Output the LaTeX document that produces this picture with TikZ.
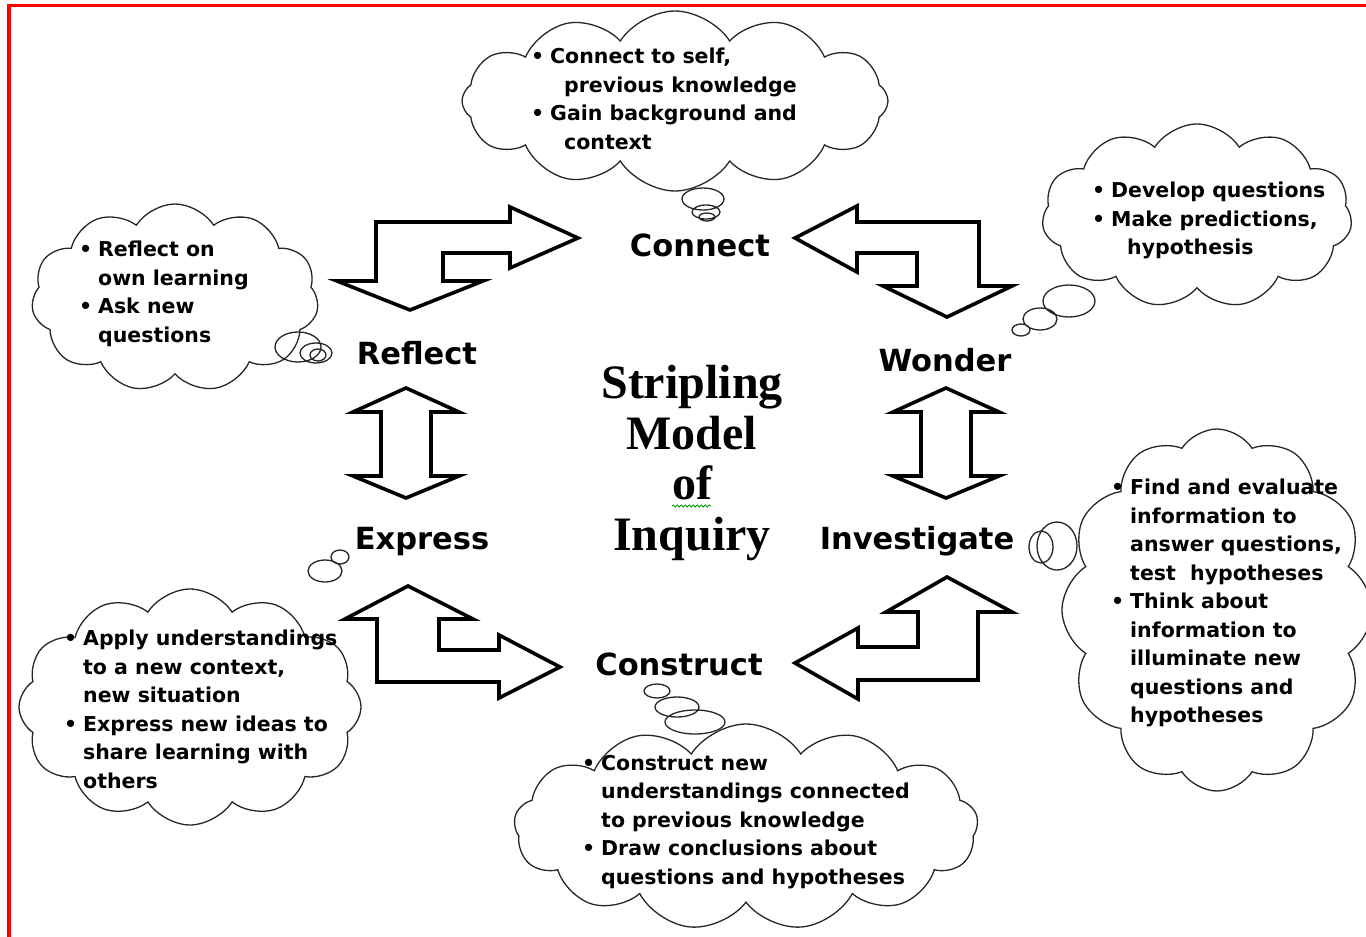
\documentclass[tikz,border=0pt]{standalone}
\usepackage{fontspec}
\setmainfont{DejaVu Sans}
\newfontfamily\titlefont{Liberation Serif}
\usetikzlibrary{shapes.symbols,decorations.pathmorphing}

\newcommand{\bl}[1]{\makebox[19pt][l]{\textbullet}#1}
\newcommand{\cl}[2][0pt]{\hspace*{\dimexpr19pt+#1\relax}#2}

\tikzset{
  stage/.style={font=\bfseries\fontsize{30.5}{34}\selectfont, inner sep=0pt, anchor=base},
  thought/.style={draw=black!85, line width=1.3pt, cloud, cloud ignores aspect, cloud puff arc=115},
  pebble/.style={draw=black!85, line width=1.3pt},
  bullets/.style={font=\bfseries\fontsize{20.5}{28.5}\selectfont, align=left, anchor=north west, inner sep=0pt},
  blockarrow/.style={draw=black, line width=3.6pt, fill=white, line join=miter},
}

\begin{document}
\begin{tikzpicture}[x=1pt,y=-1pt]
  \useasboundingbox (0,0) rectangle (1366,937);
  \clip (0,0) rectangle (1366,937);
  \draw[red, line width=3.5pt] (9,940) -- (9,5.5) -- (1370,5.5);

  % clouds
  \node[thought, cloud puffs=12, minimum width=426pt, minimum height=180pt] (connectcloud) at (675,101) {};
  \node[thought, cloud puffs=11, minimum width=310pt, minimum height=184pt] (wondercloud) at (1197,216) {};
  \node[thought, cloud puffs=11, minimum width=287pt, minimum height=188pt] (reflectcloud) at (175,298) {};
  \node[thought, cloud puffs=12, minimum width=342pt, minimum height=236pt] (expresscloud) at (190,707) {};
  \node[thought, cloud puffs=13, minimum width=464pt, minimum height=206pt] (constructcloud) at (746,827) {};
  \node[thought, cloud puffs=12, minimum width=310pt, minimum height=362pt] (investigatecloud) at (1217,610) {};

  % small bubbles
  \draw[pebble] (703,199) ellipse (21 and 11) (706,212) ellipse (14 and 7) (707,217) ellipse (8 and 4);
  \draw[pebble] (1069,301) ellipse (26 and 16) (1040,319) ellipse (17 and 11) (1021,330) ellipse (9 and 6);
  \draw[pebble] (298,347) ellipse (23 and 15) (316,353) ellipse (16 and 10) (318,355) ellipse (8 and 6);
  \draw[pebble] (340,557) ellipse (9 and 7) (325,571) ellipse (17 and 11);
  \draw[pebble] (657,691) ellipse (13 and 7) (677,707) ellipse (22 and 10) (695,722) ellipse (30 and 12);
  \draw[pebble] (1041,547) ellipse (12 and 16) (1057,546) ellipse (20 and 24);

  % cloud texts
  \node[bullets] (connecttext) at (531,48) {\bl{Connect to self,}\\\cl[14pt]{previous knowledge}\\\bl{Gain background and}\\\cl[14pt]{context}};
  \node[bullets] (wondertext) at (1092,182) {\bl{Develop questions}\\\bl{Make predictions,}\\\cl[16pt]{hypothesis}};
  \node[bullets] (reflecttext) at (79,241) {\bl{Reflect on}\\\cl{own learning}\\\bl{Ask new}\\\cl{questions}};
  \node[bullets] (expresstext) at (64,630) {\bl{Apply understandings}\\\cl{to a new context,}\\\cl{new situation}\\\bl{Express new ideas to}\\\cl{share learning with}\\\cl{others}};
  \node[bullets] (constructtext) at (582,755) {\bl{Construct new}\\\cl{understandings connected}\\\cl{to previous knowledge}\\\bl{Draw conclusions about}\\\cl{questions and hypotheses}};
  \node[bullets] (investigatetext) at (1111,479) {\bl{Find and evaluate}\\\cl{information to}\\\cl{answer questions,}\\\cl{test\ \ hypotheses}\\\bl{Think about}\\\cl{information to}\\\cl{illuminate new}\\\cl{questions and}\\\cl{hypotheses}};

  % stages
  \node[stage] (connect) at (700,256) {Connect};
  \node[stage] (reflect) at (417,364) {Reflect};
  \node[stage] (wonder) at (945,371) {Wonder};
  \node[stage] (express) at (422,549) {Express};
  \node[stage] (investigate) at (917,549) {Investigate};
  \node[stage] (construct) at (679,675) {Construct};

  \node[font=\titlefont\bfseries\fontsize{48}{50.5}\selectfont, align=center, inner sep=0pt] (model) at (692,463) {Stripling\\Model\\of\\Inquiry};
  \draw[green!60!black, line width=0.8pt, decorate, decoration={snake, amplitude=1.1pt, segment length=4pt}] (672,506) -- (711,506);

  % arrows
  \draw[blockarrow] (578,238) -- (510,268) -- (510,253) -- (443,253) -- (443,281) -- (483,281) -- (410,310)
    -- (337,281) -- (376,281) -- (376,222) -- (510,222) -- (510,207) -- cycle;
  \draw[blockarrow] (795,238) -- (857,206) -- (857,222) -- (979,222) -- (979,286) -- (1012,286) -- (947,317)
    -- (883,286) -- (917,286) -- (917,253) -- (857,253) -- (857,272) -- cycle;
  \draw[blockarrow] (408,586) -- (473,619) -- (439,619) -- (439,650) -- (499,650) -- (499,635) -- (560,667)
    -- (499,698) -- (499,682) -- (377,682) -- (377,619) -- (345,619) -- cycle;
  \draw[blockarrow] (947,577) -- (1012,612) -- (978,612) -- (978,680) -- (858,680) -- (858,699) -- (795,663)
    -- (858,628) -- (858,647) -- (918,647) -- (918,612) -- (886,612) -- cycle;
  \foreach \cx in {406,946}
    \draw[blockarrow, xshift=\cx] (0,388) -- (53,412) -- (25,412) -- (25,476) -- (53,476) -- (0,498)
      -- (-53,476) -- (-25,476) -- (-25,412) -- (-53,412) -- cycle;
\end{tikzpicture}
\end{document}
